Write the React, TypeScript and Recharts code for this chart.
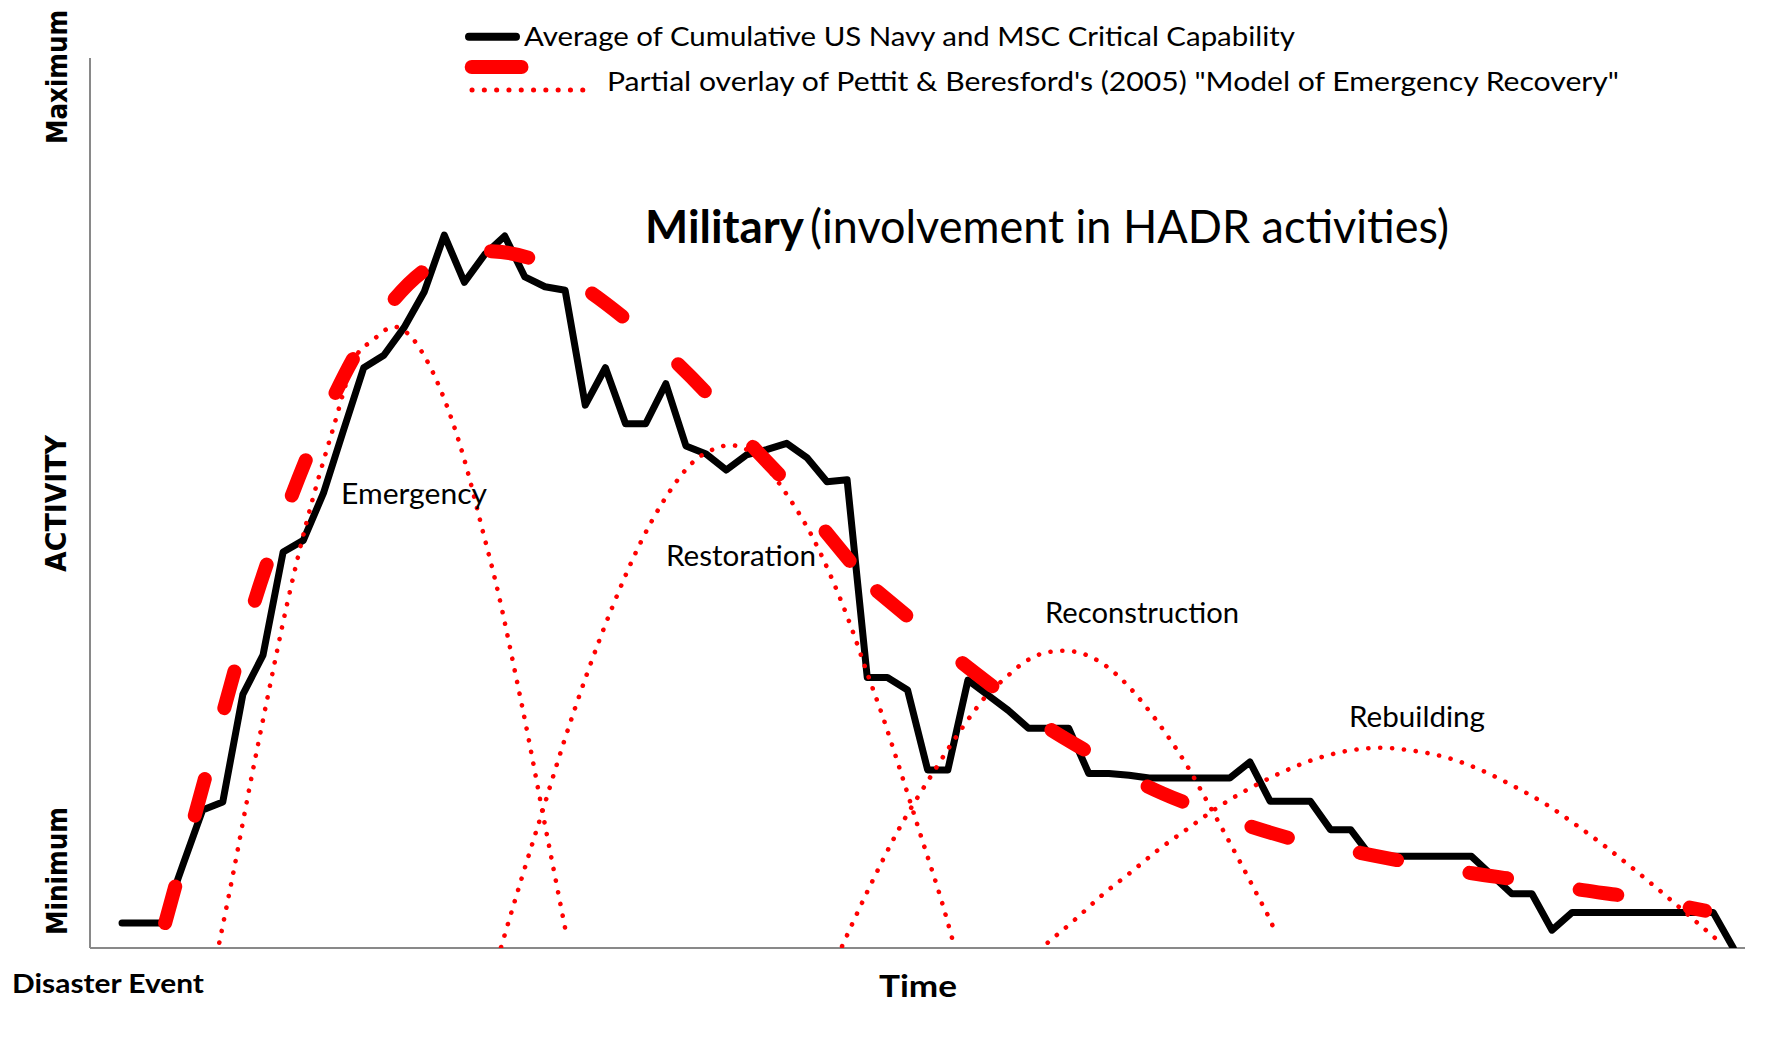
import React from 'react';
import { LineChart, Line, XAxis, YAxis, ReferenceLine } from 'recharts';

const W = 1765;
const H = 1047;

// Average of cumulative US Navy and MSC critical capability, one value per time step (t = 0..80)
const capabilityValues: number[] = [
  2.8, 2.8, 2.8, 9.2, 15.5, 16.4, 28.5, 32.9, 44.5, 45.8,
  51.1, 58.2, 65.2, 66.6, 69.7, 73.7, 80.1, 74.8, 77.9, 80.0,
  75.4, 74.3, 73.9, 61.0, 65.2, 58.9, 58.9, 63.4, 56.4, 55.5,
  53.7, 55.4, 56.0, 56.7, 55.1, 52.4, 52.6, 30.4, 30.4, 29.0,
  20.0, 20.0, 30.1, 28.4, 26.7, 24.7, 24.7, 24.7, 19.6, 19.6,
  19.4, 19.1, 19.1, 19.1, 19.1, 19.1, 20.9, 16.5, 16.5, 16.5,
  13.3, 13.3, 10.3, 10.3, 10.3, 10.3, 10.3, 10.3, 8.2, 6.1,
  6.1, 2.0, 4.0, 4.0, 4.0, 4.0, 4.0, 4.0, 4.0, 4.0, 0,
];

// Time axis range (start of the disaster event to the end of the record)
const timeDomain: [number, number] = [-1.59, 80.58];
const activityDomain: [number, number] = [0, 100];

// Pettit & Beresford overlay (dashed), first and second part: [time, activity]
const overlayPart1: [number, number][] = [
  [2.14, 2.8], [3.53, 14.2], [5.01, 26.4], [6.55, 38.7], [8.34, 50.3], [10.48, 61.8],
  [11.62, 66.8], [13.41, 72.6], [15.19, 76.4], [16.53, 77.6], [18.12, 78.3], [20.51, 77.3],
  [23.24, 73.7], [24.88, 70.9], [27.56, 65.7], [29.25, 61.8], [31.33, 56.3], [33.02, 52.2],
  [35.0, 46.6], [36.49, 42.5],
];
const overlayPart2: [number, number][] = [
  [37.49, 40.1], [39.08, 37.1], [41.51, 32.4], [43.45, 29.0], [45.93, 24.8], [48.06, 21.9],
  [50.79, 18.3], [53.03, 16.1], [56.11, 13.6], [58.39, 12.1], [61.47, 10.7], [63.95, 9.6],
  [67.03, 8.4], [69.51, 7.6], [72.54, 6.5], [75.02, 5.7], [78.6, 4.2],
];

// Phases (dotted): [time, activity]
const emergencyPhase: [number, number][] = [
  [4.83, 0.6], [5.53, 8.5], [6.31, 17.8], [7.23, 28.2], [8.21, 38.8], [9.17, 47.9],
  [10.46, 58.2], [11.65, 66.6], [12.41, 68.2], [13.5, 69.8], [14.38, 68.6], [15.04, 66.4],
  [15.82, 62.7], [16.98, 55.0], [17.86, 47.3], [18.72, 39.5], [19.46, 31.6], [20.17, 23.7],
  [20.84, 15.7], [21.51, 7.9], [22.08, 1.3],
];
const restorationPhase: [number, number][] = [
  [18.82, 0.1], [19.85, 7.9], [20.92, 15.7], [21.96, 23.3], [23.1, 30.9], [24.36, 38.4],
  [25.8, 45.8], [26.96, 50.5], [28.45, 54.8], [29.44, 56.1], [30.19, 56.5], [30.93, 56.1],
  [31.93, 54.2], [33.08, 50.7], [34.32, 46.0], [35.32, 41.1], [36.18, 36.2], [36.98, 31.0],
  [37.77, 26.0], [38.52, 20.8], [39.62, 12.9], [40.78, 4.6], [41.31, 0.3],
];
const reconstructionPhase: [number, number][] = [
  [35.75, 0.2], [37.04, 6.5], [38.63, 13.6], [40.27, 19.7], [41.2, 23.0], [42.24, 26.4],
  [43.01, 28.6], [43.84, 30.3], [44.79, 32.1], [45.88, 33.2], [46.77, 33.4], [47.65, 33.1],
  [48.72, 31.9], [49.67, 30.1], [50.84, 27.1], [51.92, 23.8], [52.9, 20.4], [53.77, 16.9],
  [54.65, 13.3], [55.48, 9.8], [56.31, 6.2], [57.09, 2.7], [57.33, 1.4],
];
const rebuildingPhase: [number, number][] = [
  [45.96, 0.6], [47.32, 3.2], [48.69, 6.0], [50.08, 8.5], [51.49, 11.1], [52.91, 13.4],
  [54.4, 15.8], [55.96, 17.9], [57.55, 19.7], [59.2, 21.2], [60.97, 22.2], [62.51, 22.5],
  [64.0, 22.2], [65.77, 21.4], [67.46, 20.0], [69.08, 18.2], [70.66, 16.2], [72.15, 13.9],
  [73.59, 11.5], [74.98, 9.0], [76.37, 6.4], [77.72, 3.8], [79.1, 1.1],
];

const seriesNames = [
  'Average of Cumulative US Navy and MSC Critical Capability',
  'Partial overlay of Pettit & Beresford\'s (2005) "Model of Emergency Recovery"',
];
const phaseNames = ['Emergency', 'Restoration', 'Reconstruction', 'Rebuilding'];

const toRows = (pairs: [number, number][]) => pairs.map(([t, v]) => ({ t, v }));
const capabilityData = capabilityValues.map((v, i) => ({ t: i, v }));

const SANS = 'Lato, "Noto Sans", sans-serif';
const VERD = '"DejaVu Sans", Verdana, sans-serif';
const RED = '#FF0000';
const AXIS = '#898989';

type TP = {
  x: number; y: number; len: number; size: number; bold?: boolean; family?: string;
  rotate?: boolean; children: React.ReactNode;
};
const T = ({ x, y, len, size, bold, family, rotate, children }: TP) => (
  <text
    x={x}
    y={y}
    fontSize={size}
    fontWeight={bold ? 700 : 400}
    fontFamily={family || SANS}
    textLength={len}
    lengthAdjust="spacingAndGlyphs"
    textAnchor={rotate ? 'middle' : 'start'}
    transform={rotate ? `rotate(-90 ${x} ${y})` : undefined}
    fill="#000"
  >
    {children}
  </text>
);

const dotted = { stroke: RED, strokeWidth: 4.6, strokeDasharray: '0.1 11.8', strokeLinecap: 'round' as const };
const dashed = { stroke: RED, strokeWidth: 14, strokeDasharray: '38 73.5', strokeLinecap: 'round' as const };

export default function App() {
  return (
    <div style={{ position: 'absolute', left: 0, top: 0, width: W, height: H, background: '#fff' }}>
      <LineChart
        width={W}
        height={H}
        data={capabilityData}
        margin={{ top: 58, right: 20, bottom: 99, left: 90 }}
      >
        <XAxis type="number" dataKey="t" domain={timeDomain} hide allowDataOverflow />
        <YAxis type="number" domain={activityDomain} hide allowDataOverflow />
        <ReferenceLine y={activityDomain[0]} stroke={AXIS} strokeWidth={2} ifOverflow="visible" />
        <ReferenceLine x={timeDomain[0]} stroke={AXIS} strokeWidth={2} ifOverflow="visible" />
        <Line
          dataKey="v"
          type="linear"
          stroke="#000"
          strokeWidth={7}
          strokeLinejoin="round"
          strokeLinecap="round"
          dot={false}
          activeDot={false}
          isAnimationActive={false}
        />
        {[emergencyPhase, restorationPhase, reconstructionPhase, rebuildingPhase].map((p, i) => (
          <Line
            key={phaseNames[i]}
            data={toRows(p)}
            dataKey="v"
            type="monotone"
            {...dotted}
            dot={false}
            activeDot={false}
            isAnimationActive={false}
          />
        ))}
        {[overlayPart1, overlayPart2].map((p, i) => (
          <Line
            key={'overlay' + i}
            data={toRows(p)}
            dataKey="v"
            type="monotone"
            {...dashed}
            dot={false}
            activeDot={false}
            isAnimationActive={false}
          />
        ))}
      </LineChart>
      <svg
        width={W}
        height={H}
        style={{ position: 'absolute', left: 0, top: 0, pointerEvents: 'none' }}
      >
        {/* legend */}
        <line x1={469} y1={36.7} x2={516} y2={36.7} stroke="#000" strokeWidth={8} strokeLinecap="round" />
        <line x1={471.7} y1={67} x2={521.5} y2={67} stroke={RED} strokeWidth={14} strokeLinecap="round" />
        <line x1={472} y1={90} x2={583} y2={90} stroke={RED} strokeWidth={5} strokeLinecap="round" strokeDasharray="0.1 12.2" />
        <T x={524} y={45.5} len={771} size={26.5}>{seriesNames[0]}</T>
        <T x={607} y={90.5} len={1012} size={26.5}>{seriesNames[1]}</T>

        {/* title */}
        <T x={645} y={243} len={159} size={45.5} bold>Military</T>
        <T x={810} y={243} len={639} size={45.5}>(involvement in HADR activities)</T>

        {/* phase labels */}
        <T x={341} y={504} len={146} size={28}>{phaseNames[0]}</T>
        <T x={666} y={566} len={150} size={28}>{phaseNames[1]}</T>
        <T x={1045} y={623} len={194} size={28}>{phaseNames[2]}</T>
        <T x={1349} y={727} len={136} size={28}>{phaseNames[3]}</T>

        {/* axis labels */}
        <T x={12} y={993} len={192} size={26} bold>Disaster Event</T>
        <T x={879} y={997} len={78} size={31} bold>Time</T>
        <T x={67} y={77} len={134} size={28} bold family={VERD} rotate>Maximum</T>
        <T x={66} y={503.5} len={137} size={28} bold family={VERD} rotate>ACTIVITY</T>
        <T x={67} y={871} len={128} size={28} bold family={VERD} rotate>Minimum</T>
      </svg>
    </div>
  );
}
